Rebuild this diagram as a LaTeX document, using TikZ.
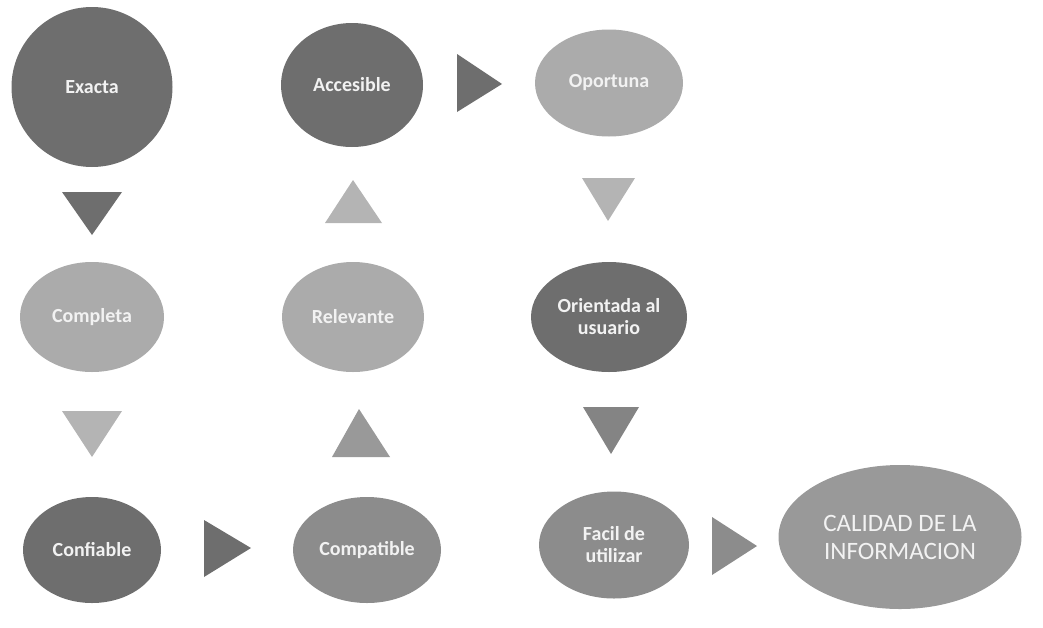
\documentclass[tikz,border=0pt]{standalone}
\usepackage{fontspec}
\setmainfont{Carlito}
\usetikzlibrary{shapes.geometric}
\definecolor{dk}{HTML}{6E6E6E}
\definecolor{md}{HTML}{8C8C8C}
\definecolor{mdl}{HTML}{999999}
\definecolor{lt}{HTML}{ABABAB}
\definecolor{txt}{HTML}{F2F2F2}
\begin{document}
\begin{tikzpicture}[x=1pt,y=-1pt,
  ov/.style={ellipse, inner sep=0pt, text=txt, align=center,
    font=\bfseries\fontsize{20}{22}\selectfont},
  big/.style={ellipse, inner sep=0pt, text=txt, align=center,
    font=\fontsize{25}{28}\selectfont}]
\useasboundingbox (0,0) rectangle (1043,627);
% nodes
\node[ov, fill=dk, minimum width=161, minimum height=160] (exacta) at (92,87) {Exacta};
\node[ov, fill=dk, minimum width=142, minimum height=124] (accesible) at (352,85) {Accesible};
\node[ov, fill=lt, minimum width=148, minimum height=107] (oportuna) at (609,83) {Oportuna};
\node[ov, fill=lt, minimum width=144, minimum height=110] (completa) at (92,317) {Completa};
\node[ov, fill=lt, minimum width=142, minimum height=110] (relevante) at (353,317) {Relevante};
\node[ov, fill=dk, minimum width=156, minimum height=110] (orientada) at (609,317) {Orientada al\\usuario};
\node[ov, fill=dk, minimum width=138, minimum height=106] (confiable) at (92,550) {Confiable};
\node[ov, fill=md, minimum width=148, minimum height=106] (compatible) at (367,550) {Compatible};
\node[ov, fill=md, minimum width=150, minimum height=107] (facil) at (614,545) {Facil de\\utilizar};
\node[big, fill=mdl, minimum width=243, minimum height=144] (calidad) at (900,537) {CALIDAD DE LA\\INFORMACION};
% triangle connectors
\fill[dk] (62,192) -- (122,192) -- (92,235) -- cycle;
\fill[dk] (457,54) -- (457,112) -- (502,84) -- cycle;
\fill[lt!90!white] (325,223) -- (382,223) -- (353,180) -- cycle;
\fill[lt!90!white] (582,178) -- (635,178) -- (608,221) -- cycle;
\fill[lt!90!white] (62,411) -- (122,411) -- (92,457) -- cycle;
\fill[mdl] (332,457) -- (390,457) -- (359,409) -- cycle;
\fill[dk] (204,520) -- (204,577) -- (251,548) -- cycle;
\fill[dk!85!white] (583,407) -- (639,407) -- (611,454) -- cycle;
\fill[md] (712,517) -- (712,575) -- (757,546) -- cycle;
\end{tikzpicture}
\end{document}
